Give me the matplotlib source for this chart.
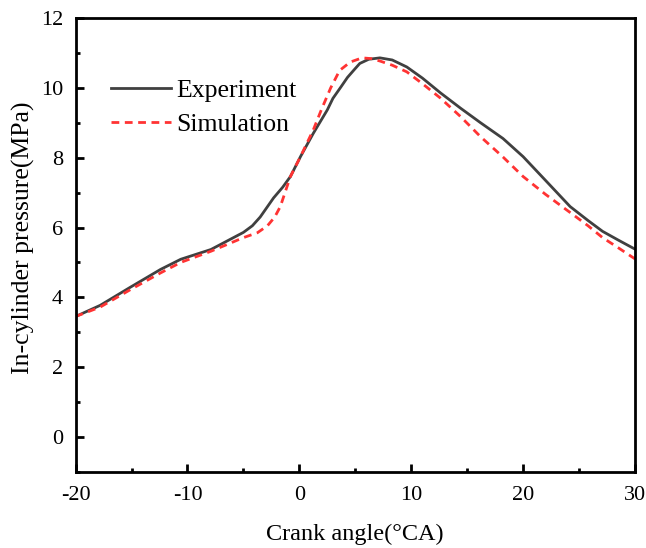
import matplotlib
matplotlib.use("Agg")
import matplotlib.pyplot as plt
from matplotlib.ticker import MultipleLocator

plt.rcParams['font.family'] = ['Liberation Serif', 'DejaVu Serif']
plt.rcParams['axes.unicode_minus'] = False

exp_x = [-20, -17.8, -15.1, -12.4, -10.6, -7.9, -5.0, -4.2, -3.5, -2.3, -1.5, -0.8, 0.1, 1.25,
         2.5, 3.0, 3.7, 4.3, 4.9, 5.4, 6.2, 7.2, 8.3, 9.6, 11.0, 12.6, 14.4, 16.2, 18.2,
         20.0, 22.0, 24.2, 25.8, 27.1, 28.5, 30.0]
exp_y = [3.45, 3.77, 4.29, 4.80, 5.09, 5.37, 5.86, 6.05, 6.30, 6.85, 7.15, 7.46, 8.03, 8.70,
         9.37, 9.70, 10.02, 10.30, 10.52, 10.70, 10.82, 10.86, 10.80, 10.60, 10.28, 9.86,
         9.42, 9.00, 8.55, 8.03, 7.35, 6.60, 6.20, 5.89, 5.64, 5.38]

sim_x = [-20, -17.8, -15.1, -12.4, -10.6, -7.9, -5.0, -3.75, -2.85, -2.2, -1.7, -0.8, 0.1,
         1.25, 2.0, 2.8, 3.6, 4.55, 5.6, 6.4, 7.2, 8.3, 9.6, 11.0, 12.6, 14.4, 16.2, 18.2,
         20.0, 22.0, 24.2, 25.8, 27.1, 28.5, 30.0]
sim_y = [3.45, 3.72, 4.22, 4.70, 5.00, 5.32, 5.71, 5.85, 6.05, 6.30, 6.60, 7.46, 8.03,
         8.80, 9.40, 10.00, 10.50, 10.74, 10.86, 10.84, 10.77, 10.65, 10.46, 10.12, 9.71,
         9.18, 8.60, 8.02, 7.46, 6.95, 6.43, 6.05, 5.71, 5.42, 5.10]

fig = plt.figure(figsize=(6.46, 5.48), dpi=100)
ax = fig.add_axes([0.117, 0.139, 0.866, 0.828])

ax.plot(exp_x, exp_y, color='#404040', lw=2.0, label='Experiment')
ax.plot(sim_x, sim_y, color='#ff3333', lw=2.0, ls=(0, (2.8, 2.0)), label='Simulation')

ax.set_xlim(-20, 30)
ax.set_ylim(-1, 12)
ax.xaxis.set_major_locator(MultipleLocator(10))
ax.xaxis.set_minor_locator(MultipleLocator(5))
ax.yaxis.set_major_locator(MultipleLocator(2))
ax.yaxis.set_minor_locator(MultipleLocator(1))
ax.tick_params(which='both', direction='in', labelsize=16, width=2)
ax.tick_params(which='major', length=6)
ax.tick_params(axis='x', which='major', pad=10)
ax.tick_params(axis='y', which='major', pad=9)
ax.tick_params(which='minor', length=3)
for s in ax.spines.values():
    s.set_linewidth(2)

ax.set_xlabel('Crank angle(°CA)', fontsize=17.5, labelpad=14)
ax.set_ylabel('In-cylinder pressure(MPa)', fontsize=18.5)
ax.yaxis.set_label_coords(-0.072, 0.515)

ax.legend(loc='upper left', bbox_to_anchor=(0.0625, 0.866), frameon=False, fontsize=18.5,
          handlelength=2.35, handletextpad=0.2, labelspacing=0.42,
          borderpad=0, borderaxespad=0)

fig.savefig('out.png', dpi=100)
